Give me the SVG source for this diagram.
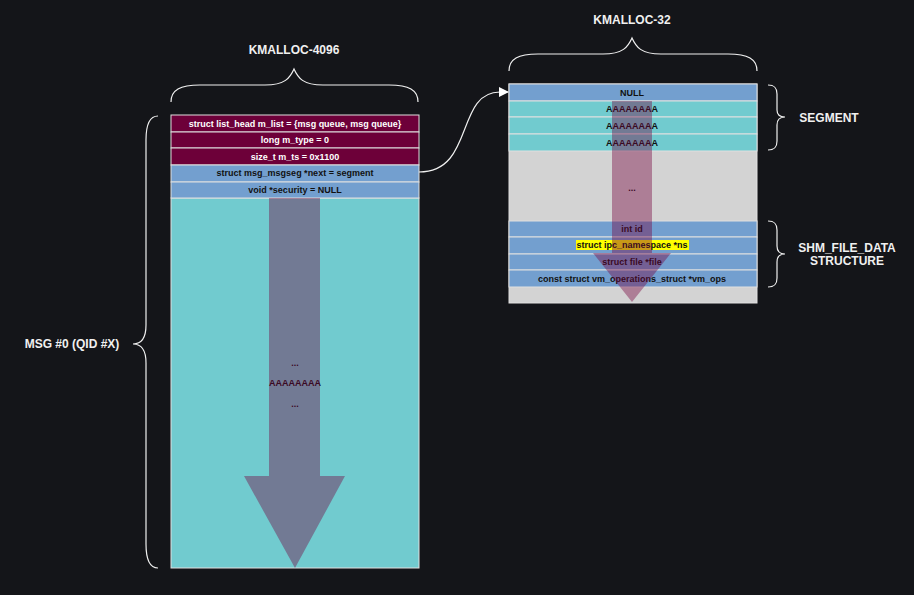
<svg xmlns="http://www.w3.org/2000/svg" width="914" height="595" viewBox="0 0 914 595">
<defs>
<style>
.t{font-family:"Liberation Sans",Arial,sans-serif;font-weight:bold;text-anchor:middle}
.h{font-size:12px;fill:#f0f0f0}
.r{font-size:9px}
.w{fill:#ffffff}
.k{fill:#111111}
.m{fill:#6d0039;stroke:#e0e0e0;stroke-width:1}
.b{fill:#739fcf;stroke:#e0e0e0;stroke-width:1}
.c{fill:#71cbcf;stroke:#e0e0e0;stroke-width:1}
.g{fill:#d3d3d3;stroke:#e0e0e0;stroke-width:1}
.br{fill:none;stroke:#f0f0f0;stroke-width:1.2}
.ar{fill:#76003d;fill-opacity:0.4;stroke:none}
</style>
<marker id="ah" viewBox="0 0 10 10" refX="9" refY="5" markerWidth="10" markerHeight="10" markerUnits="userSpaceOnUse" orient="auto">
<path d="M0,0 L10,5 L0,10 Z" fill="#ffffff"/>
</marker>
</defs>
<rect width="914" height="595" fill="#141519"/>

<g id="labels">
<text class="t h" x="294" y="54">KMALLOC-4096</text>
<text class="t h" x="632" y="24">KMALLOC-32</text>
<text class="t h" x="72" y="348">MSG #0 (QID #X)</text>
<text class="t h" x="829" y="122">SEGMENT</text>
<text class="t h" x="847" y="252">SHM_FILE_DATA</text>
<text class="t h" x="847" y="265">STRUCTURE</text>
</g>

<g id="braces">
<path class="br" d="M171,102 C171,90 180,85 200,85 L265,85 C285,85 290,78 294,69 C298,78 303,85 323,85 L389,85 C409,85 418,90 418,102"/>
<path class="br" d="M509,71 C509,59 518,54 538,54 L603,54 C623,54 628,47 632,38 C636,47 641,54 661,54 L728,54 C748,54 757,59 757,71"/>
<path class="br" d="M158,116 C150,116 146,124 146,140 L146,325 C146,338 141,344 133,344 C141,344 146,350 146,363 L146,544 C146,560 150,568 158,568"/>
<path class="br" d="M768,85 C775,85 777,88 777,94 L777,110 C777,115 780,117 785,117 C780,117 777,120 777,125 L777,141 C777,147 775,150 768,150"/>
<path class="br" d="M768,221 C775,221 777,224 777,230 L777,246 C777,251 780,254 785,254 C780,254 777,257 777,262 L777,278 C777,284 775,287 768,287"/>
</g>

<g id="msg">
<rect class="c" x="171" y="198" width="248" height="370"/>
<rect class="m" x="171" y="115" width="248" height="17"/>
<rect class="m" x="171" y="132" width="248" height="16"/>
<rect class="m" x="171" y="148" width="248" height="17"/>
<rect class="b" x="171" y="165" width="248" height="17"/>
<rect class="b" x="171" y="182" width="248" height="16"/>
<text class="t r w" x="295" y="127">struct list_head m_list = {msg queue, msg queue}</text>
<text class="t r w" x="295" y="143">long m_type = 0</text>
<text class="t r w" x="295" y="160">size_t m_ts = 0x1100</text>
<text class="t r k" x="295" y="176">struct msg_msgseg *next = segment</text>
<text class="t r k" x="295" y="193">void *security = NULL</text>
<text class="t r k" x="295" y="366">...</text>
<text class="t r k" x="295" y="386">AAAAAAAA</text>
<text class="t r k" x="295" y="407">...</text>
<path class="ar" d="M269,198 L320,198 L320,476 L345,476 L295,568 L244,476 L269,476 Z"/>
</g>

<g id="segment">
<rect class="g" x="509" y="84" width="248" height="219"/>
<rect class="b" x="509" y="84" width="248" height="17"/>
<rect class="c" x="509" y="101" width="248" height="16"/>
<rect class="c" x="509" y="117" width="248" height="17"/>
<rect class="c" x="509" y="134" width="248" height="17"/>
<rect class="b" x="509" y="221" width="248" height="16"/>
<rect class="b" x="509" y="237" width="248" height="17"/>
<rect class="b" x="509" y="254" width="248" height="16"/>
<rect class="b" x="509" y="270" width="248" height="17"/>
<rect x="576" y="240" width="113" height="10" fill="#ffff00"/>
<text class="t r k" x="632" y="96">NULL</text>
<text class="t r k" x="632" y="112">AAAAAAAA</text>
<text class="t r k" x="632" y="129">AAAAAAAA</text>
<text class="t r k" x="632" y="146">AAAAAAAA</text>
<text class="t r k" x="632" y="191">...</text>
<text class="t r k" x="632" y="232">int id</text>
<text class="t r k" x="632" y="248">struct ipc_namespace *ns</text>
<text class="t r k" x="632" y="265">struct file *file</text>
<text class="t r k" x="632" y="282">const struct vm_operations_struct *vm_ops</text>
<path class="ar" d="M612,101 L652,101 L652,253 L671,253 L632,302 L593,253 L612,253 Z"/>
</g>

<g id="connectors">
<path d="M419,172 C475,172 455,92 500,92 L508,92" fill="none" stroke="#f0f0f0" stroke-width="1.2" marker-end="url(#ah)"/>
</g>
</svg>
